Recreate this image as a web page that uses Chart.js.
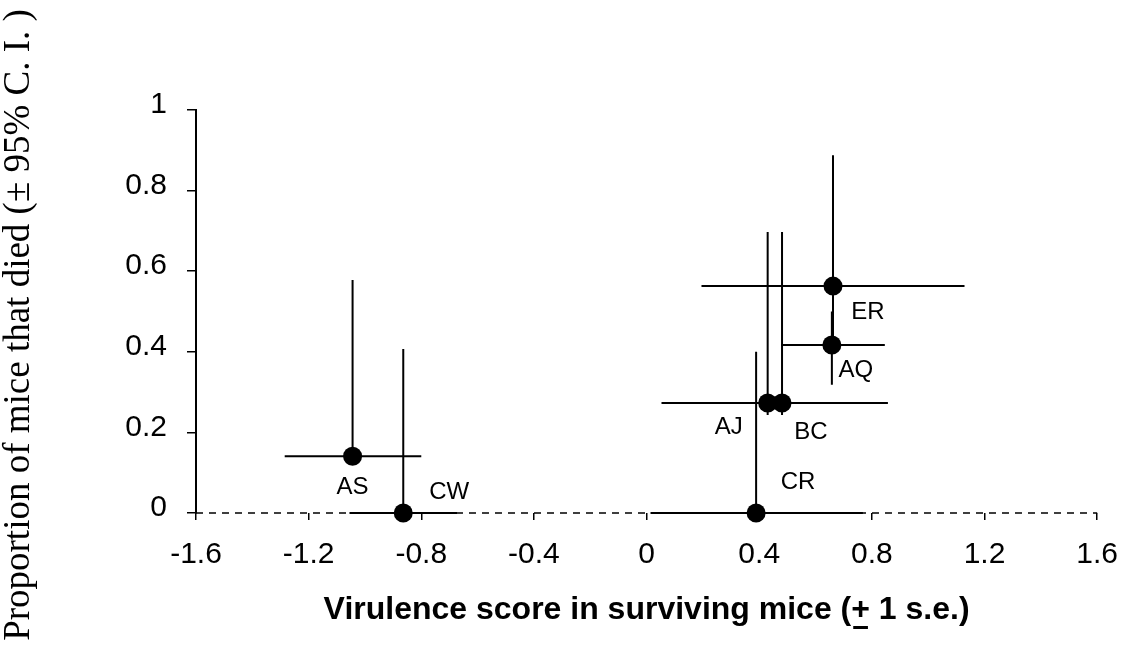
<!DOCTYPE html>
<html>
<head>
<meta charset="utf-8">
<script src="https://cdn.jsdelivr.net/npm/chart.js@4.4.0/dist/chart.umd.min.js"></script>
<style>
  html, body { margin: 0; padding: 0; background: #fff; }
  #wrap { width: 1135px; height: 646px; position: relative; }
</style>
</head>
<body>
<div id="wrap"><canvas id="c"></canvas></div>
<script>
// ---- data ----
const strains   = ['AS', 'CW', 'AJ', 'BC', 'CR', 'AQ', 'ER'];
const virulence = [-1.044, -0.864, 0.43, 0.481, 0.389, 0.658, 0.662];
const virLow    = [-1.285, -1.055, 0.053, 0.17, 0.014, 0.478, 0.195];
const virHigh   = [-0.80, -0.673, 0.79, 0.857, 0.768, 0.846, 1.129];
const propDied  = [0.141, 0, 0.273, 0.273, 0, 0.417, 0.563];
const ciLow     = [0.141, 0, 0.243, 0.243, 0, 0.318, 0.417];
const ciHigh    = [0.578, 0.407, 0.697, 0.697, 0.40, 0.5, 0.888];

const xTicks = [-1.6, -1.2, -0.8, -0.4, 0, 0.4, 0.8, 1.2, 1.6];
const xTickLabels = ['-1.6', '-1.2', '-0.8', '-0.4', '0', '0.4', '0.8', '1.2', '1.6'];
const yTicks = [0, 0.2, 0.4, 0.6, 0.8, 1];
const yTickLabels = ['0', '0.2', '0.4', '0.6', '0.8', '1'];

const xTitle = 'Virulence score in surviving mice (+ 1 s.e.)';
const yTitle = 'Proportion of mice that died (\u00B1 95% C. I. )';

// ---- styling (not data) ----
const labelOffsets = { AS: [0, 31], CW: [46, -21], CR: [42, -31], AJ: [-39, 24], BC: [29, 29], AQ: [24, 25], ER: [35, 26] };
const titleFont = { family: 'Liberation Sans, Arial, sans-serif', size: 32, weight: 'bold' };

const errorBars = {
  id: 'errorBars',
  beforeDatasetsDraw(chart) {
    const { ctx, scales: { x, y } } = chart;
    ctx.save();
    ctx.strokeStyle = '#000';
    // dashed x axis line at y = 0
    ctx.lineWidth = 1.5;
    ctx.setLineDash([7, 6]);
    ctx.beginPath();
    const y0 = y.getPixelForValue(0);
    ctx.moveTo(x.left, y0);
    ctx.lineTo(x.right, y0);
    ctx.stroke();
    ctx.setLineDash([]);
    // error bars
    ctx.lineWidth = 2;
    ctx.lineCap = 'butt';
    for (let i = 0; i < strains.length; i++) {
      const px = x.getPixelForValue(virulence[i]);
      const py = y.getPixelForValue(propDied[i]);
      ctx.beginPath();
      ctx.moveTo(x.getPixelForValue(virLow[i]), py);
      ctx.lineTo(x.getPixelForValue(virHigh[i]), py);
      ctx.moveTo(px, y.getPixelForValue(ciLow[i]));
      ctx.lineTo(px, y.getPixelForValue(ciHigh[i]));
      ctx.stroke();
    }
    ctx.restore();
  },
  afterDraw(chart) {
    const { ctx, scales: { x, y } } = chart;
    ctx.save();
    ctx.fillStyle = '#000';
    ctx.font = '24px Liberation Sans, Arial, sans-serif';
    ctx.textAlign = 'center';
    ctx.textBaseline = 'middle';
    for (let i = 0; i < strains.length; i++) {
      const off = labelOffsets[strains[i]] || [0, 0];
      ctx.fillText(strains[i], x.getPixelForValue(virulence[i]) + off[0], y.getPixelForValue(propDied[i]) + off[1]);
    }
    // y axis title (serif, rotated)
    ctx.save();
    ctx.translate(19, 325);
    ctx.rotate(-Math.PI / 2);
    ctx.font = '37px Liberation Serif, Times New Roman, serif';
    ctx.fillText(yTitle, 0, 0);
    ctx.restore();
    // underline beneath the "+" in the x title
    ctx.font = 'bold 32px Liberation Sans, Arial, sans-serif';
    const total = ctx.measureText(xTitle).width;
    const cx = (x.left + x.right) / 2;
    const pre = xTitle.slice(0, xTitle.indexOf('+'));
    const startX = cx - total / 2 + ctx.measureText(pre).width;
    const plusW = ctx.measureText('+').width;
    ctx.fillRect(startX + 2, 626, plusW - 4, 3);
    ctx.restore();
  }
};

new Chart(document.getElementById('c'), {
  type: 'scatter',
  data: {
    datasets: [{
      label: 'Strains',
      data: strains.map((s, i) => ({ x: virulence[i], y: propDied[i] })),
      backgroundColor: '#000',
      borderColor: '#000',
      borderWidth: 0,
      pointRadius: 9.5,
      pointHoverRadius: 9.5,
      clip: false
    }]
  },
  options: {
    responsive: true,
    maintainAspectRatio: false,
    animation: false,
    events: [],
    layout: { padding: { left: 0, right: 35, top: 110, bottom: 0 } },
    plugins: { legend: { display: false }, tooltip: { enabled: false } },
    scales: {
      x: {
        type: 'linear',
        min: -1.6, max: 1.6,
        afterFit: s => { s.height = 133; },
        afterBuildTicks: s => { s.ticks = xTicks.map(v => ({ value: v })); },
        border: { display: false },
        grid: { display: true, drawOnChartArea: false, drawTicks: true, tickLength: 7, color: '#000', lineWidth: 1.5 },
        ticks: {
          color: '#000', padding: 17, maxRotation: 0, autoSkip: false,
          font: { family: 'Liberation Sans, Arial, sans-serif', size: 30 },
          callback: (v, i) => xTickLabels[i]
        },
        title: { display: true, text: xTitle, color: '#000', font: titleFont, padding: { top: 0, bottom: 17 } }
      },
      y: {
        type: 'linear',
        min: 0, max: 1,
        afterFit: s => { s.width = 196; },
        afterBuildTicks: s => { s.ticks = yTicks.map(v => ({ value: v })); },
        border: { display: true, color: '#000', width: 2 },
        grid: { display: true, drawOnChartArea: false, drawTicks: true, tickLength: 9, color: '#000', lineWidth: 1.5 },
        ticks: {
          color: '#000', padding: 20, labelOffset: -5,
          font: { family: 'Liberation Sans, Arial, sans-serif', size: 30 },
          callback: (v, i) => yTickLabels[i]
        },
        title: { display: false, text: yTitle }
      }
    }
  },
  plugins: [errorBars]
});
</script>
</body>
</html>
